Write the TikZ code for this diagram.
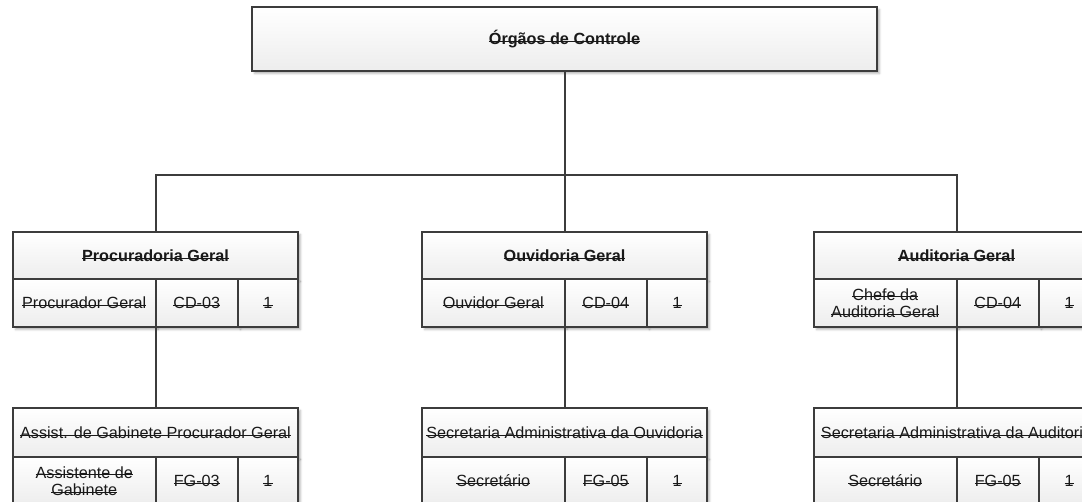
\documentclass[tikz,border=0pt]{standalone}
\usepackage{fontspec}
\setmainfont{Liberation Sans}
\usetikzlibrary{shadows.blur}

\definecolor{linha}{HTML}{3C3C3C}
\definecolor{fundo}{HTML}{EDEDED}
\newsavebox{\strkbox}
\newcommand{\strk}[1]{\sbox{\strkbox}{#1}\rlap{\rule[0.3ex]{\wd\strkbox}{1pt}}\usebox{\strkbox}}

\begin{document}
\begin{tikzpicture}[x=1pt, y=-1pt,
        caixa/.style={rectangle, draw=linha, line width=2pt, top color=white, bottom color=fundo,
            inner sep=2pt, outer sep=0pt, anchor=north west, align=center, text=black!90,
            font=\fontsize{16.2}{17.5}\selectfont,
            blur shadow={shadow xshift=2.5pt, shadow yshift=-2.5pt, shadow blur radius=2pt, shadow opacity=30}},
        conector/.style={draw=linha, line width=2pt}]
        \useasboundingbox (0,0) rectangle (1082,502);
        \clip (0,0) rectangle (1082,502);
        % topo
        \node[caixa, minimum width=625pt, minimum height=64pt] (oc) at (252,7) {\textbf{\strk{Órgãos de Controle}}};
        % Procuradoria
        \node[caixa, minimum width=285pt, minimum height=47pt] (pg) at (13,232) {\textbf{\strk{Procuradoria Geral}}};
        \node[caixa, minimum width=142.5pt, minimum height=48pt] (pg1) at (13,279) {\strk{Procurador Geral}};
        \node[caixa, minimum width=82.5pt, minimum height=48pt] (pg2) at (155.5,279) {\strk{CD-03}};
        \node[caixa, minimum width=60pt, minimum height=48pt] (pg3) at (238,279) {\strk{1}};
        \node[caixa, minimum width=285pt, minimum height=49pt] (spg) at (13,408) {\strk{Assist. de Gabinete Procurador Geral}};
        \node[caixa, minimum width=142.5pt, minimum height=48pt] (spg1) at (13,457) {\strk{Assistente de}\\\strk{Gabinete}};
        \node[caixa, minimum width=82.5pt, minimum height=48pt] (spg2) at (155.5,457) {\strk{FG-03}};
        \node[caixa, minimum width=60pt, minimum height=48pt] (spg3) at (238,457) {\strk{1}};
        % Ouvidoria
        \node[caixa, minimum width=285pt, minimum height=47pt] (og) at (422,232) {\textbf{\strk{Ouvidoria Geral}}};
        \node[caixa, minimum width=142.5pt, minimum height=48pt] (og1) at (422,279) {\strk{Ouvidor Geral}};
        \node[caixa, minimum width=82.5pt, minimum height=48pt] (og2) at (564.5,279) {\strk{CD-04}};
        \node[caixa, minimum width=60pt, minimum height=48pt] (og3) at (647,279) {\strk{1}};
        \node[caixa, minimum width=285pt, minimum height=49pt] (sog) at (422,408) {\strk{Secretaria Administrativa da Ouvidoria}};
        \node[caixa, minimum width=142.5pt, minimum height=48pt] (sog1) at (422,457) {\strk{Secretário}};
        \node[caixa, minimum width=82.5pt, minimum height=48pt] (sog2) at (564.5,457) {\strk{FG-05}};
        \node[caixa, minimum width=60pt, minimum height=48pt] (sog3) at (647,457) {\strk{1}};
        % Auditoria
        \node[caixa, minimum width=285pt, minimum height=47pt] (ag) at (814,232) {\textbf{\strk{Auditoria Geral}}};
        \node[caixa, minimum width=142.5pt, minimum height=48pt] (ag1) at (814,279) {\strk{Chefe da}\\\strk{Auditoria Geral}};
        \node[caixa, minimum width=82.5pt, minimum height=48pt] (ag2) at (956.5,279) {\strk{CD-04}};
        \node[caixa, minimum width=60pt, minimum height=48pt] (ag3) at (1039,279) {\strk{1}};
        \node[caixa, minimum width=285pt, minimum height=49pt] (sag) at (814,408) {\strk{Secretaria Administrativa da Auditoria}};
        \node[caixa, minimum width=142.5pt, minimum height=48pt] (sag1) at (814,457) {\strk{Secretário}};
        \node[caixa, minimum width=82.5pt, minimum height=48pt] (sag2) at (956.5,457) {\strk{FG-05}};
        \node[caixa, minimum width=60pt, minimum height=48pt] (sag3) at (1039,457) {\strk{1}};
        % ligacoes
        \coordinate (bus) at (564.5,175);
        \draw[conector] (oc.south) -- (bus);
        \draw[conector] (pg.north) |- (bus) -| (ag.north);
        \draw[conector] (bus) -- (og.north);
        \draw[conector] (pg1.south east) -- (spg.north);
        \draw[conector] (og1.south east) -- (sog.north);
        \draw[conector] (ag1.south east) -- (sag.north);
\end{tikzpicture}
\end{document}
